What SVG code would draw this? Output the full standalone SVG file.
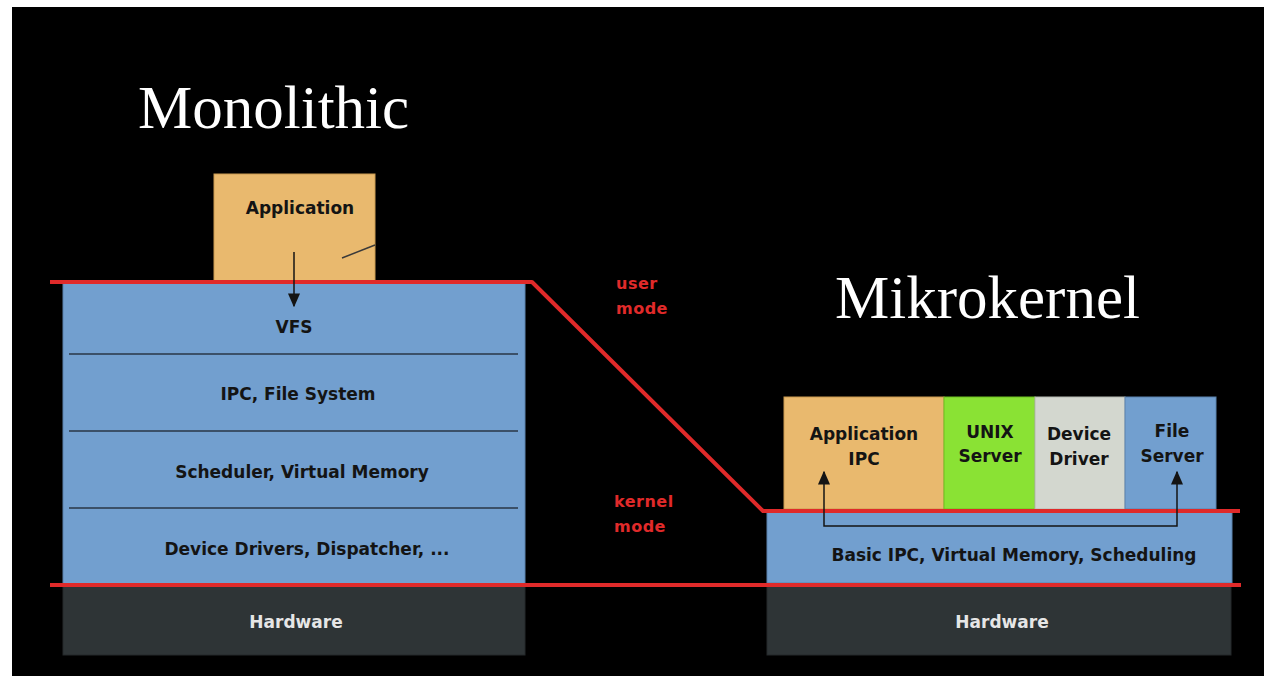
<svg xmlns="http://www.w3.org/2000/svg" width="1264" height="676" viewBox="0 0 1264 676">
  <style>
    .title { font-family: "Liberation Serif", "Times New Roman", serif; font-size: 61px; fill: #ffffff; }
    .lbl { font-family: "DejaVu Sans", "Liberation Sans", sans-serif; font-size: 17px; font-weight: bold; fill: #141414; text-anchor: middle; }
    .hw { fill: #e6e6e6; }
    .mode { font-family: "DejaVu Sans", "Liberation Sans", sans-serif; font-size: 16px; font-weight: bold; fill: #e02a2a; letter-spacing: 0.5px; }
    .blue { fill: #729fcf; stroke: #5b82ad; stroke-width: 1; }
    .orange { fill: #e9b96e; stroke: #c99a50; stroke-width: 1; }
    .green { fill: #8ae234; stroke: #6fbf22; stroke-width: 1; }
    .grey { fill: #d3d7cf; stroke: #b5b9b1; stroke-width: 1; }
    .dark { fill: #2e3436; stroke: #24292b; stroke-width: 1; }
    .divider { stroke: #3b5068; stroke-width: 2; }
    .boundary { fill: none; stroke: #e02a2a; stroke-width: 4; stroke-linejoin: round; }
    .flow { fill: none; stroke: #141414; stroke-width: 1.5; }
  </style>
  <defs>
    <marker id="head" viewBox="0 0 10 10" refX="9" refY="5" markerWidth="14" markerHeight="12" markerUnits="userSpaceOnUse" orient="auto-start-reverse" preserveAspectRatio="none">
      <path d="M0,0 L10,5 L0,10 Z" fill="#141414"/>
    </marker>
  </defs>

  <!-- canvas -->
  <rect x="0" y="0" width="1264" height="676" fill="#ffffff"/>
  <rect x="12" y="7" width="1252" height="669" fill="#000000"/>

  <text class="title" x="138" y="128">Monolithic</text>
  <text class="title" x="835" y="318">Mikrokernel</text>

  <!-- monolithic kernel -->
  <g id="mono-app">
    <rect class="orange" x="214" y="174" width="161" height="107"/>
    <text class="lbl" x="300" y="214">Application</text>
    <line x1="342" y1="258" x2="375" y2="245" stroke="#3a3a3a" stroke-width="1.5"/>
  </g>
  <g id="mono-kernel">
    <rect class="blue" x="63" y="282" width="462" height="303"/>
    <line class="divider" x1="69" y1="354" x2="518" y2="354"/>
    <line class="divider" x1="69" y1="431" x2="518" y2="431"/>
    <line class="divider" x1="69" y1="508" x2="518" y2="508"/>
    <text class="lbl" x="294" y="333">VFS</text>
    <text class="lbl" x="298" y="400">IPC, File System</text>
    <text class="lbl" x="302" y="478">Scheduler, Virtual Memory</text>
    <text class="lbl" x="307" y="555">Device Drivers, Dispatcher, ...</text>
  </g>
  <g id="mono-hardware">
    <rect class="dark" x="63" y="585" width="462" height="70"/>
    <text class="lbl hw" x="296" y="628">Hardware</text>
  </g>

  <!-- microkernel -->
  <g id="micro-app">
    <rect class="orange" x="784" y="397" width="160" height="112"/>
    <text class="lbl" x="864" y="440">Application</text>
    <text class="lbl" x="864" y="465">IPC</text>
  </g>
  <g id="micro-unix">
    <rect class="green" x="944" y="397" width="91" height="112"/>
    <text class="lbl" x="990" y="438">UNIX</text>
    <text class="lbl" x="990" y="462">Server</text>
  </g>
  <g id="micro-driver">
    <rect class="grey" x="1035" y="397" width="90" height="112"/>
    <text class="lbl" x="1079" y="440">Device</text>
    <text class="lbl" x="1079" y="465">Driver</text>
  </g>
  <g id="micro-fs">
    <rect class="blue" x="1125" y="397" width="91" height="112"/>
    <text class="lbl" x="1172" y="437">File</text>
    <text class="lbl" x="1172" y="462">Server</text>
  </g>
  <g id="micro-kernel">
    <rect class="blue" x="767" y="511" width="465" height="72"/>
    <text class="lbl" x="1014" y="561">Basic IPC, Virtual Memory, Scheduling</text>
  </g>
  <g id="micro-hardware">
    <rect class="dark" x="767" y="585" width="464" height="70"/>
    <text class="lbl hw" x="1002" y="628">Hardware</text>
  </g>

  <!-- mode boundaries -->
  <g id="modes">
    <polyline class="boundary" points="50,282 532,282 763,511 1240,511"/>
    <line class="boundary" x1="50" y1="585" x2="1241" y2="585"/>
    <text class="mode" x="616" y="289">user</text>
    <text class="mode" x="616" y="314">mode</text>
    <text class="mode" x="614" y="507">kernel</text>
    <text class="mode" x="614" y="532">mode</text>
  </g>

  <!-- calls -->
  <g id="connectors">
    <line class="flow" x1="294" y1="252" x2="294" y2="306" marker-end="url(#head)"/>
    <polyline class="flow" points="824,472 824,526 1177,526 1177,472" marker-start="url(#head)" marker-end="url(#head)"/>
  </g>
</svg>
